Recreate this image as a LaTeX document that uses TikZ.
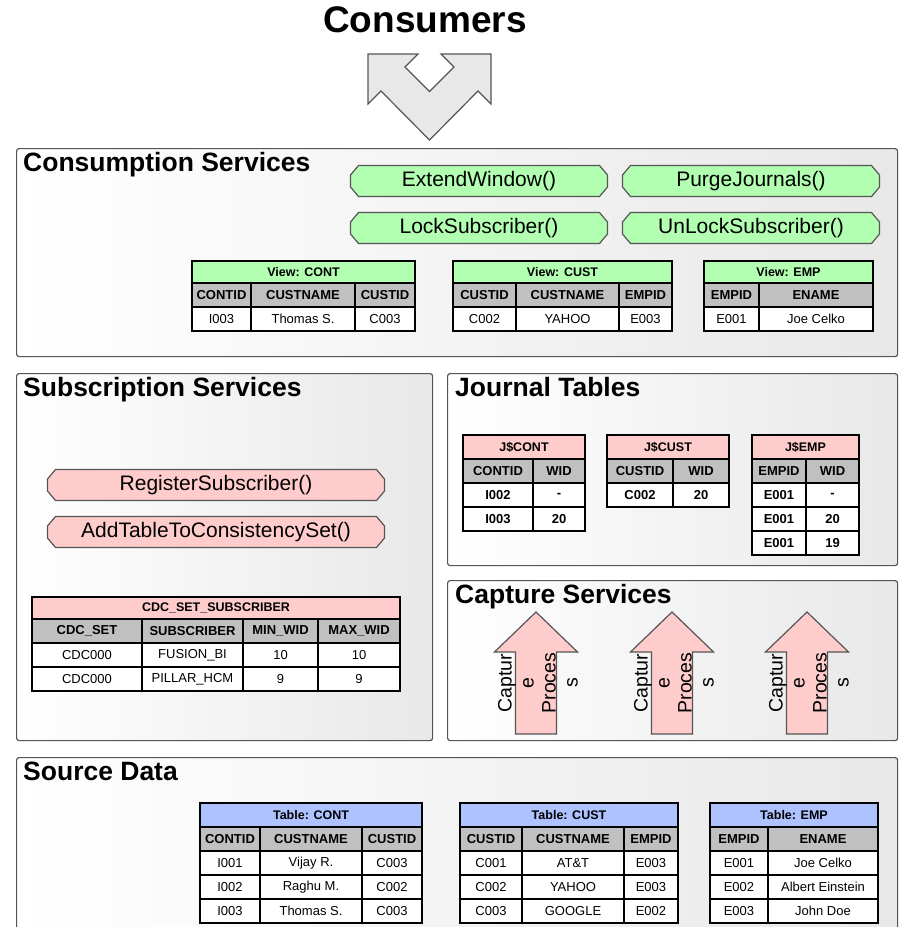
\documentclass[tikz,border=0pt]{standalone}
\usepackage{fontspec}
\setmainfont{Liberation Sans}

\definecolor{viewgreen}{RGB}{178,255,178}
\definecolor{jrnlpink}{RGB}{255,204,204}
\definecolor{srcblue}{RGB}{174,194,255}
\definecolor{colgray}{RGB}{192,192,192}
\definecolor{edgegray}{RGB}{85,85,85}

\newcommand{\fsz}[1]{\fontsize{#1}{#1}\selectfont}
% call box: name, x, y, width, colour, text
\newcommand{\callbox}[6]{%
  \draw[btnedge, fill=#5] ({#2-#4/2+8},{#3-15.5}) -- ({#2+#4/2-8},{#3-15.5})
    -- ({#2+#4/2},{#3-6}) -- ({#2+#4/2},{#3+6}) -- ({#2+#4/2-8},{#3+15.5})
    -- ({#2-#4/2+8},{#3+15.5}) -- ({#2-#4/2},{#3+6}) -- ({#2-#4/2},{#3-6}) -- cycle;
  \node[btntxt] (#1) at (#2,#3) {#6};}

\tikzset{
  panel/.style={draw=edgegray, line width=1.2pt, rounded corners=2.5pt,
    left color=white, right color=black!9, anchor=north west, inner sep=0},
  paneltitle/.style={anchor=base west, inner sep=0, font=\fsz{26.5}\bfseries},
  btnedge/.style={draw=edgegray, line width=1.2pt},
  btntxt/.style={inner sep=0, font=\fsz{21}},
  cell/.style={draw=black, line width=1.3pt, minimum height=24, inner sep=0,
    font=\fsz{13}},
  ttl/.style={cell, minimum height=22, font=\fsz{12.5}\bfseries},
  hdr/.style={cell, fill=colgray, font=\fsz{13}\bfseries},
  dat/.style={cell, fill=white},
  bdat/.style={dat, font=\fsz{13}\bfseries},
  caparrow/.style={draw=edgegray, line width=1.2pt, fill=jrnlpink},
  captxt/.style={rotate=90, align=center, inner sep=0, font=\fontsize{19.5}{22}\selectfont}
}

\begin{document}
\begin{tikzpicture}[x=1pt, y=-1pt]
  \path[use as bounding box, clip] (0,0) rectangle (901,927);

  % consumers on top
  \node[font=\fsz{37}\bfseries, anchor=base] (consumers) at (425,32) {Consumers};
  \draw[fill=black!9, draw=edgegray, line width=1.2pt] (368,54) -- (418,54) -- (405,67)
    -- (429.5,91.5) -- (454,67) -- (441,54) -- (491,54) -- (491,104) -- (478,91)
    -- (429.5,140) -- (381,91) -- (368,104) -- cycle;

  % the five panels
  \node[panel, minimum width=881, minimum height=208] (cons) at (16,148) {};
  \node[panel, minimum width=416, minimum height=367] (subs) at (16,373) {};
  \node[panel, minimum width=450, minimum height=192] (jrnl) at (447,373) {};
  \node[panel, minimum width=450, minimum height=160] (capt) at (447,580) {};
  \node[panel, minimum width=881, minimum height=190] (src) at (16,757) {};

  \node[paneltitle] (cons-t) at (23,171) {Consumption Services};
  \node[paneltitle] (subs-t) at (23,396) {Subscription Services};
  \node[paneltitle] (jrnl-t) at (455,396) {Journal Tables};
  \node[paneltitle] (capt-t) at (455,603) {Capture Services};
  \node[paneltitle] (src-t) at (23,780) {Source Data};

  % service calls
  \callbox{extwin}{479}{181}{257}{viewgreen}{ExtendWindow()}
  \callbox{purge}{751}{181}{257}{viewgreen}{PurgeJournals()}
  \callbox{lock}{479}{228}{257}{viewgreen}{LockSubscriber()}
  \callbox{unlock}{751}{228}{257}{viewgreen}{UnLockSubscriber()}
  \callbox{regsub}{216}{485}{337}{jrnlpink}{RegisterSubscriber()}
  \callbox{addtbl}{216}{532}{337}{jrnlpink}{AddTableToConsistencySet()}

  % View: CONT
  \node[ttl, fill=viewgreen, minimum width=223] (vcont) at (303.5,272) {View: CONT};
  \foreach \xa/\xb/\txt [count=\i] in {192/251/CONTID,251/355/CUSTNAME,355/415/CUSTID}
    \node[hdr, minimum width=\xb-\xa] (vcont-h\i) at ({(\xa+\xb)/2},295) {\txt};
  \foreach \xa/\xb/\txt [count=\i] in {192/251/I003,251/355/Thomas S.,355/415/C003}
    \node[dat, minimum width=\xb-\xa] (vcont-a\i) at ({(\xa+\xb)/2},319) {\txt};

  % View: CUST
  \node[ttl, fill=viewgreen, minimum width=219] (vcust) at (562.5,272) {View: CUST};
  \foreach \xa/\xb/\txt [count=\i] in {453/516/CUSTID,516/619/CUSTNAME,619/672/EMPID}
    \node[hdr, minimum width=\xb-\xa] (vcust-h\i) at ({(\xa+\xb)/2},295) {\txt};
  \foreach \xa/\xb/\txt [count=\i] in {453/516/C002,516/619/YAHOO,619/672/E003}
    \node[dat, minimum width=\xb-\xa] (vcust-a\i) at ({(\xa+\xb)/2},319) {\txt};

  % View: EMP
  \node[ttl, fill=viewgreen, minimum width=169] (vemp) at (788.5,272) {View: EMP};
  \foreach \xa/\xb/\txt [count=\i] in {704/759/EMPID,759/873/ENAME}
    \node[hdr, minimum width=\xb-\xa] (vemp-h\i) at ({(\xa+\xb)/2},295) {\txt};
  \foreach \xa/\xb/\txt [count=\i] in {704/759/E001,759/873/Joe Celko}
    \node[dat, minimum width=\xb-\xa] (vemp-a\i) at ({(\xa+\xb)/2},319) {\txt};

  % journals
  \node[ttl, fill=jrnlpink, minimum width=122, minimum height=24] (jcont) at (524,447) {J\$CONT};
  \foreach \xa/\xb/\txt [count=\i] in {463/533/CONTID,533/585/WID}
    \node[hdr, minimum width=\xb-\xa] (jcont-h\i) at ({(\xa+\xb)/2},471) {\txt};
  \foreach \y/\ka/\wa [count=\i] in {495/I002/-,519/I003/20} {
    \node[bdat, minimum width=70] (jcont-k\i) at (498,\y) {\ka};
    \node[bdat, minimum width=52] (jcont-w\i) at (559,\y) {\wa};
  }

  \node[ttl, fill=jrnlpink, minimum width=122, minimum height=24] (jcust) at (668,447) {J\$CUST};
  \foreach \xa/\xb/\txt [count=\i] in {607/673/CUSTID,673/729/WID}
    \node[hdr, minimum width=\xb-\xa] (jcust-h\i) at ({(\xa+\xb)/2},471) {\txt};
  \node[bdat, minimum width=66] (jcust-k1) at (640,495) {C002};
  \node[bdat, minimum width=56] (jcust-w1) at (701,495) {20};

  \node[ttl, fill=jrnlpink, minimum width=107, minimum height=24] (jemp) at (805.5,447) {J\$EMP};
  \foreach \xa/\xb/\txt [count=\i] in {752/806/EMPID,806/859/WID}
    \node[hdr, minimum width=\xb-\xa] (jemp-h\i) at ({(\xa+\xb)/2},471) {\txt};
  \foreach \y/\ka/\wa [count=\i] in {495/E001/-,519/E001/20,543/E001/19} {
    \node[bdat, minimum width=54] (jemp-k\i) at (779,\y) {\ka};
    \node[bdat, minimum width=53] (jemp-w\i) at (832.5,\y) {\wa};
  }

  % subscriber table
  \node[ttl, fill=jrnlpink, minimum width=368] (cdcsub) at (216,608) {CDC\_SET\_SUBSCRIBER};
  \foreach \xa/\xb/\txt [count=\i] in {32/142/CDC\_SET,142/243/SUBSCRIBER,243/318/MIN\_WID,318/400/MAX\_WID}
    \node[hdr, minimum width=\xb-\xa] (cdcsub-h\i) at ({(\xa+\xb)/2},631) {\txt};
  \foreach \y/\sa/\sb/\sc/\sd [count=\i] in {655/CDC000/FUSION\_BI/10/10,679/CDC000/PILLAR\_HCM/9/9} {
    \node[dat, minimum width=110] (cdcsub-a\i) at (87,\y) {\sa};
    \node[dat, minimum width=101] (cdcsub-b\i) at (192.5,\y) {\sb};
    \node[dat, minimum width=75] (cdcsub-c\i) at (280.5,\y) {\sc};
    \node[dat, minimum width=82] (cdcsub-d\i) at (359,\y) {\sd};
  }

  % capture processes
  \foreach \c [count=\i] in {536,672,807} {
    \draw[caparrow] (\c,612) -- ({\c+41.5},652) -- ({\c+20.5},652) -- ({\c+20.5},734)
      -- ({\c-20.5},734) -- ({\c-20.5},652) -- ({\c-41.5},652) -- cycle;
    \node[captxt] (cap\i) at ({\c+2},683) {Captur\\e\\Proces\\s};
  }

  % Table: CONT
  \node[ttl, fill=srcblue, minimum width=222, minimum height=24] (tcont) at (311,815) {Table: CONT};
  \foreach \xa/\xb/\txt [count=\i] in {200/260/CONTID,260/362/CUSTNAME,362/422/CUSTID}
    \node[hdr, minimum width=\xb-\xa] (tcont-h\i) at ({(\xa+\xb)/2},839) {\txt};
  \foreach \y/\sa/\sb/\sc [count=\i] in {863/I001/Vijay R./C003,887/I002/Raghu M./C002,911/I003/Thomas S./C003} {
    \node[dat, minimum width=60] (tcont-a\i) at (230,\y) {\sa};
    \node[dat, minimum width=102] (tcont-b\i) at (311,\y) {\sb};
    \node[dat, minimum width=60] (tcont-c\i) at (392,\y) {\sc};
  }

  % Table: CUST
  \node[ttl, fill=srcblue, minimum width=218, minimum height=24] (tcust) at (569,815) {Table: CUST};
  \foreach \xa/\xb/\txt [count=\i] in {460/522/CUSTID,522/624/CUSTNAME,624/678/EMPID}
    \node[hdr, minimum width=\xb-\xa] (tcust-h\i) at ({(\xa+\xb)/2},839) {\txt};
  \foreach \y/\sa/\sb/\sc [count=\i] in {863/C001/AT\&T/E003,887/C002/YAHOO/E003,911/C003/GOOGLE/E002} {
    \node[dat, minimum width=62] (tcust-a\i) at (491,\y) {\sa};
    \node[dat, minimum width=102] (tcust-b\i) at (573,\y) {\sb};
    \node[dat, minimum width=54] (tcust-c\i) at (651,\y) {\sc};
  }

  % Table: EMP
  \node[ttl, fill=srcblue, minimum width=168, minimum height=24] (temp) at (794,815) {Table: EMP};
  \foreach \xa/\xb/\txt [count=\i] in {710/768/EMPID,768/878/ENAME}
    \node[hdr, minimum width=\xb-\xa] (temp-h\i) at ({(\xa+\xb)/2},839) {\txt};
  \foreach \y/\sa/\sb [count=\i] in {863/E001/Joe Celko,887/E002/Albert Einstein,911/E003/John Doe} {
    \node[dat, minimum width=58] (temp-a\i) at (739,\y) {\sa};
    \node[dat, minimum width=110] (temp-b\i) at (823,\y) {\sb};
  }
\end{tikzpicture}
\end{document}
